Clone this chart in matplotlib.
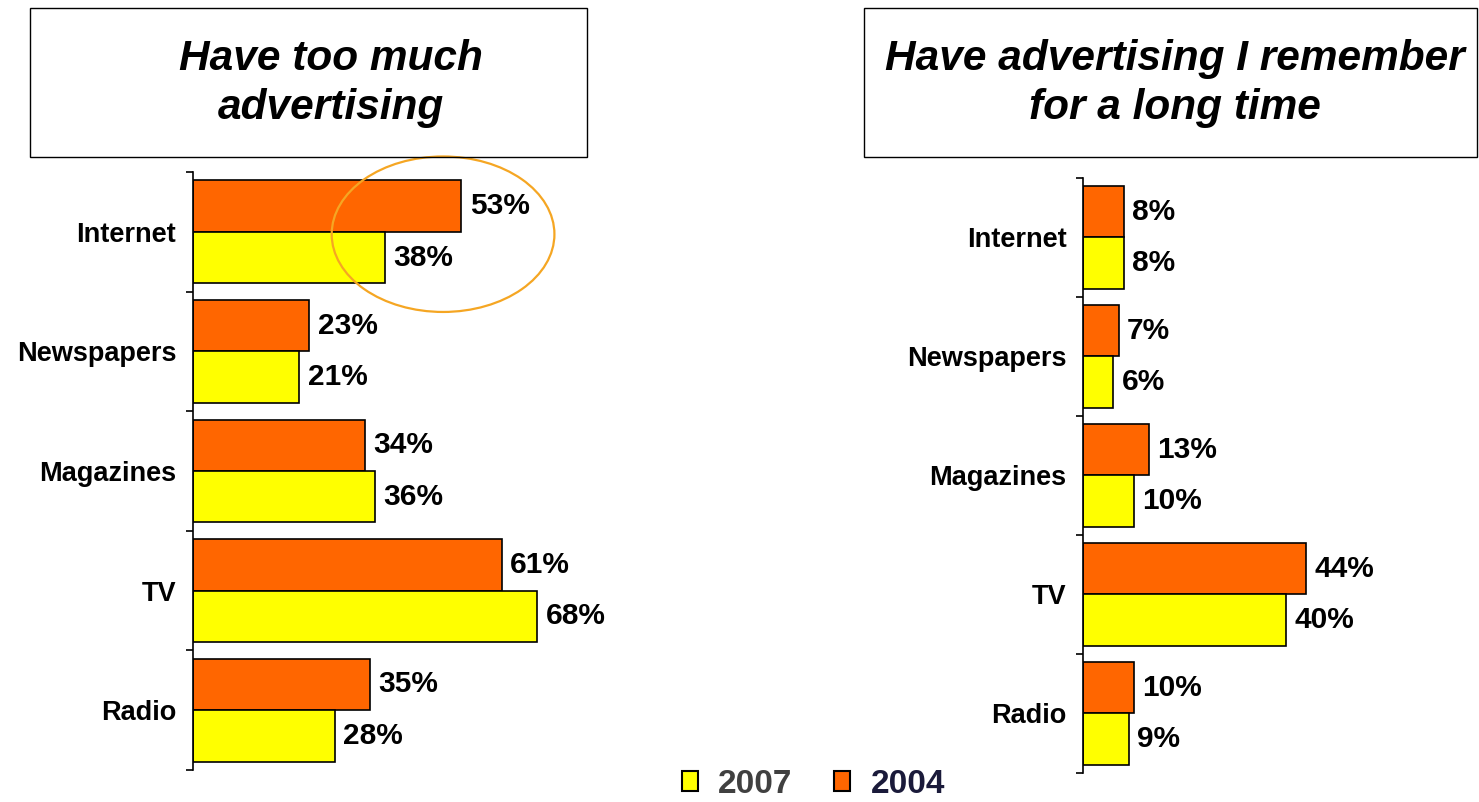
import numpy as np
import matplotlib.pyplot as plt
from matplotlib.patches import Rectangle, Ellipse, Patch

plt.rcParams['font.family'] = ['Liberation Sans', 'DejaVu Sans']

categories = ['Internet', 'Newspapers', 'Magazines', 'TV', 'Radio']
too_much_2004 = [53, 23, 34, 61, 35]
too_much_2007 = [38, 21, 36, 68, 28]
remember_2004 = [8, 7, 13, 44, 10]
remember_2007 = [8, 6, 10, 40, 9]
titles = ['Have too much\nadvertising', 'Have advertising I remember\nfor a long time']

orange = '#FF6600'
yellow = '#FFFF00'

fig = plt.figure(figsize=(14.79, 8.02), dpi=100)

ax1 = fig.add_axes([0.1305, 0.0399, 0.3022, 0.7456])
ax2 = fig.add_axes([0.7323, 0.0362, 0.2570, 0.7419])


def draw_panel(ax, v2004, v2007, xmax):
    y = np.arange(len(categories))
    h = 0.43
    b1 = ax.barh(y - h / 2, v2004, height=h, color=orange, edgecolor='black', linewidth=1.2)
    b2 = ax.barh(y + h / 2, v2007, height=h, color=yellow, edgecolor='black', linewidth=1.2)
    for bars in (b1, b2):
        ax.bar_label(bars, labels=['%d%%' % v for v in bars.datavalues], padding=6,
                     fontsize=21.5, fontweight='bold')
    ax.set_xlim(0, xmax)
    ax.set_ylim(len(categories) - 0.5, -0.5)
    ax.set_yticks(np.arange(len(categories) + 1) - 0.5)
    ax.set_yticklabels([])
    ax.set_yticks(y, minor=True)
    ax.set_yticklabels(categories, minor=True, fontsize=19.5, fontweight='bold')
    ax.tick_params(axis='y', which='major', length=5, width=1.2, direction='out')
    ax.tick_params(axis='y', which='minor', length=0, pad=12)
    ax.set_xticks([])
    for s in ['top', 'right', 'bottom']:
        ax.spines[s].set_visible(False)
    ax.spines['left'].set_linewidth(1.2)


draw_panel(ax1, too_much_2004, too_much_2007, 88.3)
draw_panel(ax2, remember_2004, remember_2007, 75)

# highlight ring around Internet in the left panel
ax1.add_patch(Ellipse((49.4, 0.02), 44, 1.30, fill=False, edgecolor='#F5A623',
                      linewidth=1.6, clip_on=False))

# title boxes
boxes = [(0.0203, 0.3766, 0.2238), (0.5842, 0.4145, 0.7945)]
for (x0, w, tx), t in zip(boxes, titles):
    fig.patches.append(Rectangle((x0, 0.8042), w, 0.1858, transform=fig.transFigure,
                                 fill=False, edgecolor='black', linewidth=1.0))
    fig.text(tx, 0.896, t, ha='center', va='center', fontsize=30.5,
             fontweight='bold', fontstyle='italic', linespacing=1.3)

handles = [Patch(facecolor=yellow, edgecolor='black', linewidth=1.5),
           Patch(facecolor=orange, edgecolor='black', linewidth=1.5)]
leg = fig.legend(handles, ['2007', '2004'], loc='center', bbox_to_anchor=(0.550, 0.022),
                 ncol=2, frameon=False, prop={'size': 24, 'weight': 'bold'},
                 handlelength=0.47, handleheight=0.57, handletextpad=0.62, columnspacing=1.25,
                 borderpad=0.1)
leg.get_texts()[0].set_color('#404040')
leg.get_texts()[1].set_color('#1a1a3a')

fig.savefig('out.png', dpi=100)
